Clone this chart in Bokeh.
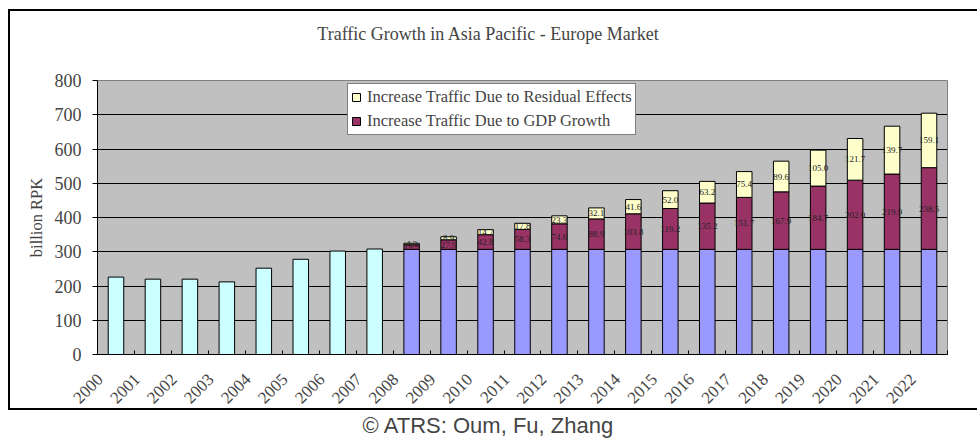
from bokeh.plotting import figure
from bokeh.layouts import column
from bokeh.models import (ColumnDataSource, FixedTicker, Legend, LegendItem, Label, Range1d)
from bokeh.embed import file_html
from bokeh.resources import INLINE
from bokeh.core.properties import value

# ---------------- data ----------------
hist_years = [2000, 2001, 2002, 2003, 2004, 2005, 2006, 2007]
hist_values = [226, 220, 220, 212, 252, 278, 302, 308]

fc_years = [2008, 2009, 2010, 2011, 2012, 2013, 2014, 2015, 2016, 2017, 2018, 2019, 2020, 2021, 2022]
fc_base = [307, 307, 307, 307, 307, 307, 307, 307, 307, 307, 307, 307, 307, 307, 307]
fc_gdp = [13.5, 27.9, 42.8, 58.3, 74.6, 88.9, 103.8, 119.2, 135.2, 151.7, 167.9, 184.7, 202.0, 219.9, 238.5]
fc_resid = [4.3, 8.9, 14.7, 17.8, 23.3, 32.1, 41.6, 52.0, 63.2, 75.4, 89.6, 105.0, 121.7, 139.7, 159.1]

y_ticks = [0, 100, 200, 300, 400, 500, 600, 700, 800]

title_text = "Traffic Growth in Asia Pacific - Europe Market"
y_label = "billion RPK"
resid_name = "Increase Traffic Due to Residual Effects"
gdp_name = "Increase Traffic Due to GDP Growth"
credit = "\u00a9 ATRS: Oum, Fu, Zhang"

C_HIST = "#CCFFFF"
C_BASE = "#9999FF"
C_GDP = "#993366"
C_RESID = "#FFFFCC"
SERIF = "Liberation Serif"

# ---------------- sources ----------------
hist_src = ColumnDataSource(dict(year=hist_years, value=hist_values))
gdp_mid = [b + g / 2 for b, g in zip(fc_base, fc_gdp)]
res_mid = [b + g + r / 2 for b, g, r in zip(fc_base, fc_gdp, fc_resid)]
fc_src = ColumnDataSource(dict(
    year=fc_years, base=fc_base, gdp=fc_gdp, resid=fc_resid,
    gdp_mid=gdp_mid, res_mid=res_mid,
    gdp_txt=["%.1f" % v for v in fc_gdp],
    res_txt=["%.1f" % v for v in fc_resid],
))

all_years = hist_years + fc_years
bounds = [y - 0.5 for y in all_years] + [all_years[-1] + 0.5]
label_pos = [y - 0.43 for y in all_years]

def bare(fig):
    fig.xaxis.visible = False
    fig.yaxis.visible = False
    fig.xgrid.visible = False
    fig.ygrid.visible = False
    fig.outline_line_color = None
    fig.background_fill_color = "white"
    fig.border_fill_color = "white"
    return fig

CW = 967  # canvas width inside the chart box

# ---- title strip (inside the box; its frame is aligned with the chart frame) ----
pt = bare(figure(width=CW, height=50, output_backend="svg", toolbar_location=None,
                 min_border=0, x_range=Range1d(0, 1), y_range=Range1d(0, 1)))
pt.add_layout(Label(x=391, y=28, x_units="screen", y_units="screen", text=title_text,
                    text_align="center", text_baseline="middle",
                    text_font=SERIF, text_font_size="18px"))

# ---- main chart ----
p = figure(width=CW, height=356, output_backend="svg", toolbar_location=None,
           x_range=Range1d(all_years[0] - 0.5, all_years[-1] + 0.5),
           y_range=Range1d(0, 800),
           min_border_left=87, min_border_right=30, min_border_top=19, min_border_bottom=63,
           background_fill_color="#C0C0C0", border_fill_color="white",
           outline_line_color="#808080")

W = 0.42
p.vbar(x="year", top="value", width=W, source=hist_src, fill_color=C_HIST,
       line_color="black", line_width=1)
rs = p.vbar_stack(["base", "gdp", "resid"], x="year", width=W, source=fc_src,
                  fill_color=[C_BASE, C_GDP, C_RESID], line_color="black", line_width=1)

lbl_kw = dict(text_font=value(SERIF), text_font_size="9px", text_color="#222222",
              text_align="center", text_baseline="middle")
p.text(x="year", y="gdp_mid", text="gdp_txt", source=fc_src, **lbl_kw)
p.text(x="year", y="res_mid", text="res_txt", source=fc_src, **lbl_kw)

# axes
p.xaxis.ticker = FixedTicker(ticks=label_pos, minor_ticks=bounds)
p.xaxis.major_label_overrides = {t: str(y) for t, y in zip(label_pos, all_years)}
p.xaxis.major_tick_in = 0
p.xaxis.major_tick_out = 0
p.xaxis.minor_tick_in = 4
p.xaxis.minor_tick_out = 0
p.xaxis.major_label_orientation = 0.785398
p.xaxis.major_label_standoff = 22
p.xaxis.major_label_text_font = SERIF
p.xaxis.major_label_text_font_size = "17px"
p.xaxis.axis_line_color = "black"
p.xaxis.minor_tick_line_color = "black"

p.yaxis.ticker = FixedTicker(ticks=y_ticks)
p.yaxis.minor_tick_line_color = None
p.yaxis.major_tick_in = 0
p.yaxis.major_tick_out = 5
p.yaxis.major_label_standoff = 11
p.yaxis.major_label_text_font = SERIF
p.yaxis.major_label_text_font_size = "18px"
p.yaxis.axis_label = y_label
p.yaxis.axis_label_text_font = SERIF
p.yaxis.axis_label_text_font_size = "16.5px"
p.yaxis.axis_label_text_font_style = "normal"
p.yaxis.axis_label_standoff = 6
p.yaxis.axis_line_color = "black"
p.yaxis.major_tick_line_color = "black"

p.xgrid.grid_line_color = None
p.ygrid.grid_line_color = "black"
p.ygrid.grid_line_width = 1

legend = Legend(items=[LegendItem(label=resid_name, renderers=[rs[2]]),
                       LegendItem(label=gdp_name, renderers=[rs[1]])],
                location=(250, 219), margin=0, padding=3, spacing=4,
                label_height=20, glyph_height=10, glyph_width=10, label_standoff=6,
                label_text_font=SERIF, label_text_font_size="16.5px",
                border_line_color="black", border_line_width=1,
                background_fill_color="white", background_fill_alpha=1)
p.add_layout(legend)

box = column(pt, p, margin=(9, 0, 0, 8),
             styles={"border-left": "2px solid black", "border-top": "2px solid black"})

# ---- credit line (outside the box); its top border closes the chart box ----
pc = bare(figure(width=969, height=30, output_backend="svg", toolbar_location=None,
                 min_border=0, x_range=Range1d(0, 1), y_range=Range1d(0, 1)))
pc.add_layout(Label(x=480, y=15, x_units="screen", y_units="screen", text=credit,
                    text_align="center", text_baseline="middle",
                    text_font="Liberation Sans", text_font_size="22px"))
pc.margin = (-9, 0, 0, 8)
pc.styles = {"border-top": "2px solid black", "background-color": "white",
             "position": "relative", "z-index": "2"}

page = column(box, pc)

open("out.html", "w").write(file_html(page, INLINE))
